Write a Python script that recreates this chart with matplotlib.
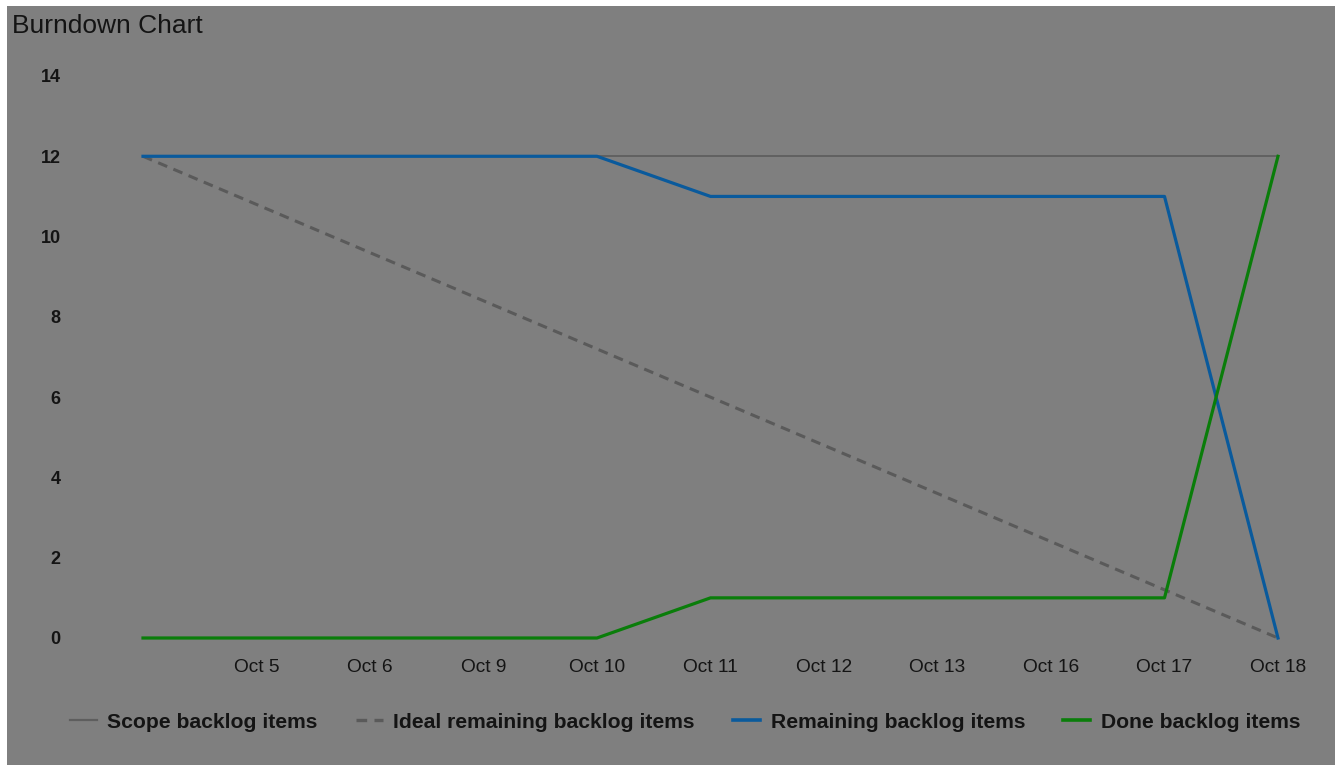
import matplotlib
matplotlib.use("Agg")
import matplotlib.pyplot as plt
from matplotlib.lines import Line2D
from matplotlib.patches import Rectangle

# ---- data ----
dates = ["", "Oct 5", "Oct 6", "Oct 9", "Oct 10", "Oct 11", "Oct 12", "Oct 13", "Oct 16", "Oct 17", "Oct 18"]
scope = [12, 12, 12, 12, 12, 12, 12, 12, 12, 12, 12]
ideal = [12, 10.8, 9.6, 8.4, 7.2, 6.0, 4.8, 3.6, 2.4, 1.2, 0]
remaining = [12, 12, 12, 12, 12, 11, 11, 11, 11, 11, 0]
done = [0, 0, 0, 0, 0, 1, 1, 1, 1, 1, 12]
yticks = [0, 2, 4, 6, 8, 10, 12, 14]
series_names = ["Scope backlog items", "Ideal remaining backlog items",
                "Remaining backlog items", "Done backlog items"]

W, H = 1335, 765
DPI = 100
BG = "#7f7f7f"
TXT = "#141414"
C_SCOPE = "#5e5e5e"
C_IDEAL = "#5a5a5a"
C_REM = "#0a5a9c"
C_DONE = "#0a7d0a"

fig = plt.figure(figsize=(W / DPI, H / DPI), dpi=DPI, facecolor="white")
# gray panel with thin white margin at top/left
fig.patches.append(Rectangle((7 / W, 0), 1 - 7 / W, 1 - 6 / H, transform=fig.transFigure,
                             facecolor=BG, edgecolor="none", zorder=-10))

# axes placement in pixels
step = 113.5
x0 = 143
left_px = x0 - 0.5 * step
right_px = x0 + 10.3 * step
top_px = 76
bot_px = 638
ax = fig.add_axes([left_px / W, 1 - bot_px / H, (right_px - left_px) / W, (bot_px - top_px) / H])
ax.set_zorder(5)
ax.set_facecolor("none")
ax.set_xlim(-0.5, 10.3)
ax.set_ylim(0, 14)
for s in ax.spines.values():
    s.set_visible(False)

x = list(range(len(dates)))
ax.plot(x, scope, color=C_SCOPE, lw=1.3, clip_on=False, solid_capstyle="butt", zorder=1)
ax.plot(x, ideal, color=C_IDEAL, lw=2.2, ls=(0, (3.2, 2.2)), clip_on=False, zorder=2)
ax.plot(x, remaining, color=C_REM, lw=2.3, clip_on=False, zorder=3)
ax.plot(x, done, color=C_DONE, lw=2.3, clip_on=False, zorder=4)

ax.set_xticks(x)
ax.set_xticklabels(dates, fontsize=13.8, color=TXT, family="Liberation Sans")
ax.set_yticks(yticks)
ax.set_yticklabels([str(v) for v in yticks], fontsize=13, color=TXT,
                   family="Liberation Sans", fontweight="bold")
ax.tick_params(axis="both", length=0)
ax.tick_params(axis="x", pad=15)
ax.tick_params(axis="y", pad=18.5)

fig.text(12 / W, 1 - 26 / H, "Burndown Chart", fontsize=19, color=TXT,
         family="Liberation Sans", va="center", ha="left")

handles = [
    Line2D([], [], color=C_SCOPE, lw=1.6),
    Line2D([], [], color=C_IDEAL, lw=2.4, ls=(0, (3.2, 2.2))),
    Line2D([], [], color=C_REM, lw=2.6),
    Line2D([], [], color=C_DONE, lw=2.6),
]
leg = fig.legend(handles, series_names, loc="center", bbox_to_anchor=(685 / W, 1 - 722 / H),
                 ncol=4, frameon=False, handlelength=1.3, handletextpad=0.48,
                 columnspacing=1.8, prop={"family": "Liberation Sans", "weight": "bold", "size": 15.2})
for t in leg.get_texts():
    t.set_color(TXT)

fig.savefig("out.png", dpi=DPI, facecolor="white")
